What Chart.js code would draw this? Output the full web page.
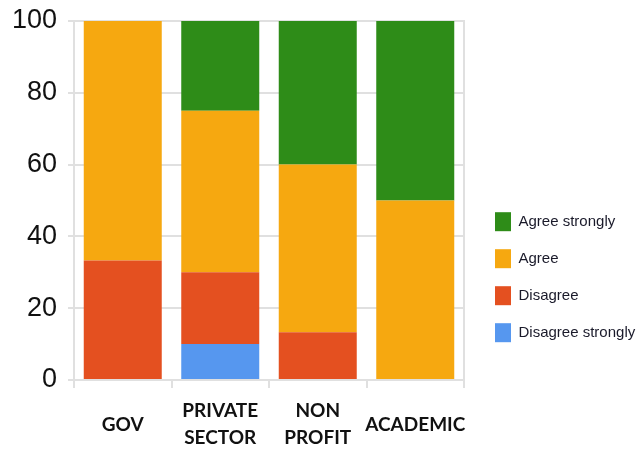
<!DOCTYPE html>
<html>
<head>
<meta charset="utf-8">
<script src="https://cdn.jsdelivr.net/npm/chart.js@4"></script>
<style>
  html, body { margin: 0; padding: 0; background: #fff; }
  #wrap { width: 640px; height: 449px; }
</style>
</head>
<body>
<div id="wrap"><canvas id="chart" width="640" height="449"></canvas></div>
<script>
// categorias (eixo x) e séries empilhadas, de baixo para cima
const categories = [["GOV"], ["PRIVATE", "SECTOR"], ["NON", "PROFIT"], ["ACADEMIC"]];
const disagreeStrongly = [0, 10, 0, 0];
const disagree = [33.3, 20, 13.3, 0];
const agree = [66.7, 45, 46.7, 50];
const agreeStrongly = [0, 25, 40, 50];
const yTicks = [0, 20, 40, 60, 80, 100];

const series = [
    { name: "Disagree strongly", values: disagreeStrongly, color: "#5697ef" },
    { name: "Disagree", values: disagree, color: "#e45020" },
    { name: "Agree", values: agree, color: "#f6a810" },
    { name: "Agree strongly", values: agreeStrongly, color: "#2e8c18" }
];

const gridGray = "#e0e0e0";

// legenda à direita: largura fixa (o Chart.js limita a largura das caixas verticais)
const legendBox = {
    id: "legendBox",
    beforeLayout(chart) {
        const lg = chart.legend;
        if (!lg || lg._patched) return;
        const fit = lg.fit;
        lg.fit = function () {
            fit.call(this);
            this.width = 176;
        };
        lg._patched = true;
    },
    afterLayout(chart) {
        const lg = chart.legend;
        lg.left += 13;
        lg.right += 13;
    }
};

new Chart(document.getElementById("chart").getContext("2d"), {
    type: "bar",
    data: {
        labels: categories,
        datasets: series.map(s => ({
            label: s.name,
            data: s.values,
            backgroundColor: s.color,
            borderWidth: 0,
            categoryPercentage: 1,
            barPercentage: 0.8
        }))
    },
    plugins: [legendBox],
    options: {
        responsive: false,
        animation: false,
        layout: { padding: { left: 0, top: 21, right: 0, bottom: 0 } },
        plugins: {
            tooltip: { enabled: false },
            legend: {
                position: "right",
                reverse: true,
                title: { display: true, text: " ", font: { size: 12 }, padding: { top: 0, bottom: 70 } },
                labels: {
                    boxWidth: 16,
                    boxHeight: 19,
                    padding: 18,
                    color: "#1a1a2a",
                    font: { family: "'Liberation Sans', Arial, sans-serif", size: 15 }
                }
            }
        },
        scales: {
            x: {
                stacked: true,
                afterFit: axis => { axis.height = 69; },
                grid: { offset: true, drawOnChartArea: false, drawTicks: true, tickLength: 8, color: gridGray, lineWidth: 2 },
                border: { color: gridGray, width: 2 },
                ticks: {
                    color: "#111",
                    padding: 23,
                    maxRotation: 0,
                    autoSkip: false,
                    crossAlign: "center",
                    font: { family: "Lato, 'Open Sans', sans-serif", size: 19, weight: "bold", lineHeight: "27px" }
                }
            },
            y: {
                stacked: true,
                min: 0,
                max: 100,
                afterFit: axis => {
                    axis.width = 74;
                    axis.paddingTop = 0;
                    axis.paddingBottom = 0;
                },
                afterBuildTicks: axis => { axis.ticks = yTicks.map(v => ({ value: v })); },
                grid: { color: gridGray, lineWidth: 2, tickLength: 6 },
                border: { color: gridGray, width: 2 },
                ticks: {
                    color: "#111",
                    padding: 11,
                    font: { family: "'Liberation Sans', Arial, sans-serif", size: 27 }
                }
            },
            y2: {
                position: "right",
                min: 0,
                max: 100,
                grid: { drawOnChartArea: false, drawTicks: false, color: "rgba(0,0,0,0)" },
                border: { color: gridGray, width: 2 },
                ticks: { display: false }
            }
        }
    }
});
</script>
</body>
</html>
